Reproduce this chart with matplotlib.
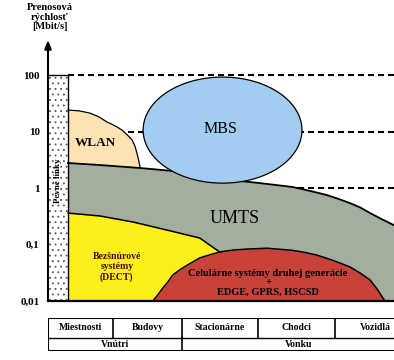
import numpy as np
import matplotlib
matplotlib.use("Agg")
import matplotlib.pyplot as plt

# --- data (x: 0..100 along environment axis, y: Mbit/s) ---
rate_ticks = [0.01, 0.1, 1, 10, 100]
rate_labels = ["0,01", "0,1", "1", "10", "100"]
dashed_levels = [100, 10, 1]

fixed_x = [0, 5.8]
fixed_top = 100

wlan_x = [5.8, 9.0, 12.1, 14.6, 17.1, 19.4, 21.4, 23.0, 24.3, 25.1, 25.7, 26.2, 26.6, 27.2]
wlan_top = [24.0, 23.2, 21.2, 18.3, 14.7, 12.6, 10.6, 8.6, 7.08, 5.6, 4.16, 3.1, 2.36, 1.9]

umts_x = [5.8, 15.0, 26.6, 36.1, 43.9, 52.6, 61.3, 70.8, 76.0, 80.6, 84.0, 87.3, 90.3, 93.1, 96.5, 100]
umts_top = [2.77, 2.55, 2.26, 2.0, 1.70, 1.39, 1.22, 1.04, 0.88, 0.75, 0.64, 0.54, 0.45, 0.36, 0.28, 0.22]

dect_x = [5.8, 15.0, 24.6, 34.4, 43.9, 46.5, 48.8, 51.2, 54.0, 58.0]
dect_top = [0.36, 0.32, 0.25, 0.18, 0.13, 0.10, 0.080, 0.0625, 0.043, 0.02]

gsm_x = [30.3, 31.8, 33.2, 34.7, 36.1, 38.2, 40.2, 43.9, 46.8, 49.7, 53.6, 57.5, 63.3,
         70.5, 74.0, 77.7, 82.5, 87.3, 90.3, 93.1, 95.2, 96.8, 97.4]
gsm_top = [0.01, 0.013, 0.017, 0.022, 0.029, 0.036, 0.043, 0.058, 0.066, 0.074, 0.080, 0.083, 0.086,
           0.079, 0.073, 0.065, 0.052, 0.040, 0.031, 0.0235, 0.016, 0.0113, 0.01]

mbs_x = (27.5, 73.4)
mbs_rate = (1.22, 92.0)

env_labels = ["Miestnosti", "Budovy", "Stacionárne", "Chodci", "Vozidlá"]
group_labels = ["Vnútri", "Vonku"]
group_span = [2, 3]

SERIF = "Liberation Serif"
plt.rcParams["hatch.linewidth"] = 0.6

fig = plt.figure(figsize=(3.94, 3.60), dpi=100)
W, H = 394.0, 360.0
ax = fig.add_axes([48 / W, 59 / H, 346 / W, 261 / H])
ax.set_yscale("log")
ax.set_xlim(0, 100)
ax.set_ylim(0.01, 10 ** 2.62)

# dashed reference lines (behind everything)
for lvl in dashed_levels:
    ax.plot([fixed_x[1], 100], [lvl, lvl], color="black", lw=1.5,
            linestyle=(0, (2.9, 1.9)), zorder=1)

# fixed lines column
ax.fill_between(fixed_x, 0.01, fixed_top, facecolor="white", edgecolor="#555555",
                hatch="...", linewidth=0, zorder=2)
ax.plot([fixed_x[0], fixed_x[1], fixed_x[1]], [fixed_top, fixed_top, 0.01], color="black", lw=1, zorder=6)

# WLAN
ax.fill_between(wlan_x, 0.01, wlan_top, color="#fde2b3", linewidth=0, zorder=2)
ax.plot(wlan_x, wlan_top, color="black", lw=0.9, zorder=3)

# UMTS
ax.fill_between(umts_x, 0.01, umts_top, color="#a4ae9f", linewidth=0, zorder=3)
ax.plot(umts_x, umts_top, color="black", lw=1.3, zorder=3)

# DECT
ax.fill_between(dect_x, 0.01, dect_top, color="#fbef1c", linewidth=0, zorder=4)
ax.plot(dect_x, dect_top, color="black", lw=1.1, zorder=4)

# 2G cellular
ax.fill_between(gsm_x, 0.01, gsm_top, color="#c9423a", linewidth=0, zorder=5)
ax.plot(gsm_x, gsm_top, color="black", lw=1.1, zorder=5)

# MBS ellipse (in log space)
t = np.linspace(0, 2 * np.pi, 300)
cx, rx = np.mean(mbs_x), (mbs_x[1] - mbs_x[0]) / 2
ly = np.log10(mbs_rate)
cy, ry = ly.mean(), (ly[1] - ly[0]) / 2
ex = cx + rx * np.cos(t)
ey = 10 ** (cy + ry * np.sin(t))
ax.fill(ex, ey, facecolor="#a3cdf0", edgecolor="black", lw=0.9, zorder=5)

# labels inside regions
ax.text(13.6, 6.25, "WLAN", family=SERIF, weight="bold", fontsize=9.5, ha="center", va="center", zorder=7)
ax.text(np.mean(mbs_x) - 0.7, 11.3, "MBS", family=SERIF, fontsize=11.5, ha="center", va="center", zorder=7)
ax.text(54.0, 0.29, "UMTS", family=SERIF, fontsize=13, ha="center", va="center", zorder=7)
ax.text(19.9, 0.040, "Bezšnúrové\nsystémy\n(DECT)", family=SERIF, weight="bold", fontsize=7,
        color="#4a0a00", ha="center", va="center", linespacing=1.1, zorder=7)
ax.text(63.6, 0.021, "Celulárne systémy druhej generácie\n+\nEDGE, GPRS, HSCSD", family=SERIF,
        weight="bold", fontsize=7.5, ha="center", va="center", linespacing=1.1, zorder=7)
ax.text(2.8, 1.33, "Pevné linky", family=SERIF, weight="bold", fontsize=6.5, rotation=90,
        ha="center", va="center", zorder=7)

# axes styling
for s in ["top", "right", "left"]:
    ax.spines[s].set_visible(False)
ax.spines["bottom"].set_linewidth(1.6)
ax.spines["bottom"].set_zorder(8)
ax.set_xticks([])
ax.set_yticks(rate_ticks)
ax.set_yticklabels(rate_labels, family=SERIF, weight="bold", fontsize=8)
ax.yaxis.set_minor_locator(matplotlib.ticker.NullLocator())
ax.tick_params(axis="y", length=0, pad=6)
ax.annotate("", xy=(0, 1), xytext=(0, 0), xycoords="axes fraction",
            arrowprops=dict(arrowstyle="-|>,head_length=0.5,head_width=0.2", color="black", lw=1.5,
                            shrinkA=0, shrinkB=0), zorder=9)

fig.text(50 / W, 1 - 17 / H, "Prenosová\nrýchlosť\n[Mbit/s]", family=SERIF, weight="bold",
         fontsize=7.5, ha="center", va="center", linespacing=1.05)

# environment table below
col_px = [48, 113, 182, 258, 335, 415]
tx = fig.add_axes([48 / W, 9 / H, (col_px[-1] - 48) / W, 33 / H])
tx.set_xlim(col_px[0], col_px[-1])
tx.set_ylim(0, 33)
tx.axis("off")
tx.plot([col_px[0], col_px[-1]], [33, 33], color="black", lw=1.5)
tx.plot([col_px[0], col_px[-1]], [0, 0], color="black", lw=1.5)
tx.plot([col_px[0], col_px[-1]], [13, 13], color="black", lw=1.0)
tx.plot([col_px[0], col_px[0]], [0, 33], color="black", lw=1.5)
for xe in col_px[1:-1]:
    tx.plot([xe, xe], [13, 33], color="black", lw=1.2)
for i, lab in enumerate(env_labels):
    tx.text((col_px[i] + col_px[i + 1]) / 2, 23, lab, family=SERIF, weight="bold", fontsize=7,
            ha="center", va="center")
start = 0
for g, span in zip(group_labels, group_span):
    end = start + span
    if start > 0:
        tx.plot([col_px[start], col_px[start]], [0, 13], color="black", lw=1.2)
    tx.text((col_px[start] + col_px[end]) / 2, 6.5, g, family=SERIF, weight="bold", fontsize=7,
            ha="center", va="center")
    start = end

fig.savefig("out.png", dpi=100)
